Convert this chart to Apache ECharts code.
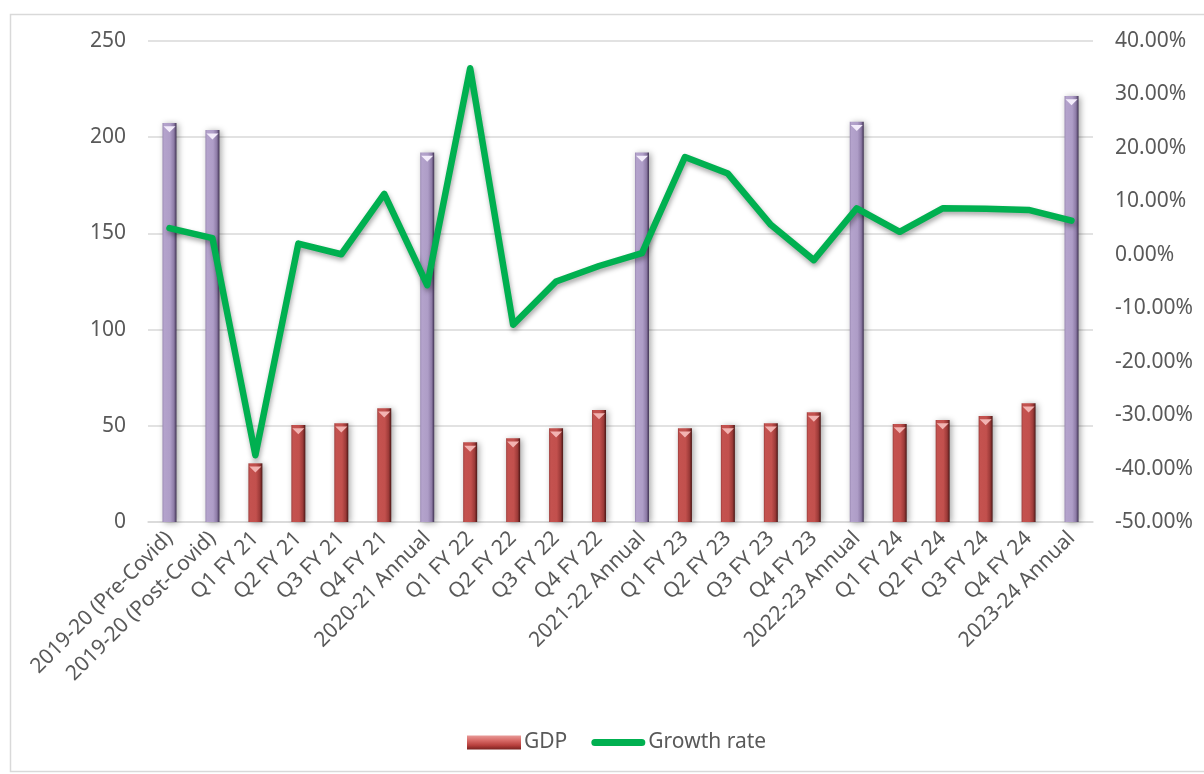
<!DOCTYPE html>
<html>
<head>
<meta charset="utf-8">
<script src="https://cdn.jsdelivr.net/npm/echarts@6/dist/echarts.min.js"></script>
<style>
  html, body { margin: 0; padding: 0; background: #ffffff; }
  #chart { width: 1204px; height: 774px; }
</style>
</head>
<body>
<div id="chart"></div>
<script>
// ---- data ----
var categories = [
  '2019-20 (Pre-Covid)', '2019-20 (Post-Covid)',
  'Q1 FY 21', 'Q2 FY 21', 'Q3 FY 21', 'Q4 FY 21', '2020-21 Annual',
  'Q1 FY 22', 'Q2 FY 22', 'Q3 FY 22', 'Q4 FY 22', '2021-22 Annual',
  'Q1 FY 23', 'Q2 FY 23', 'Q3 FY 23', 'Q4 FY 23', '2022-23 Annual',
  'Q1 FY 24', 'Q2 FY 24', 'Q3 FY 24', 'Q4 FY 24', '2023-24 Annual'
];
var gdpValues = [207.4, 203.7, 30.5, 50.4, 51.3, 59.1, 192.1, 41.4, 43.5, 48.7, 58.2, 192.1,
                 48.7, 50.4, 51.3, 57.0, 208.0, 50.9, 53.0, 55.1, 61.7, 221.4];
var isAnnual = [true, true, false, false, false, false, true, false, false, false, false, true,
                false, false, false, false, true, false, false, false, false, true];
var growthRate = [5.0, 3.1, -37.5, 2.1, 0.1, 11.4, -5.7, 34.9, -13.1, -5.0, -2.1, 0.3,
                  18.3, 15.2, 5.6, -1.0, 8.7, 4.3, 8.7, 8.6, 8.4, 6.4];
var leftTicks = { min: 0, max: 250, interval: 50 };
var rightTicks = { min: -50, max: 40, interval: 10 };

// ---- styles ----
var FONT = 'Noto Sans';
function hGrad(stops) {
  return new echarts.graphic.LinearGradient(0, 0, 1, 0, stops.map(function (s) { return { offset: s[0], color: s[1] }; }));
}
var redGrad = hGrad([[0, '#9e3f3d'], [0.12, '#c4524f'], [0.55, '#c2504d'], [0.82, '#9c3a38'], [1, '#4a1716']]);
var purpleGrad = hGrad([[0, '#9a89b3'], [0.12, '#b4a3cc'], [0.55, '#ae9dc7'], [0.82, '#8d7ba6'], [1, '#3e3050']]);
var legendRed = new echarts.graphic.LinearGradient(0, 0, 0, 1, [
  { offset: 0, color: '#e89a98' }, { offset: 0.35, color: '#d86a67' }, { offset: 0.7, color: '#b8403d' }, { offset: 1, color: '#7a2220' }
]);
// thick rounded line icon inside a 54x14 box (zero-length subpaths fix the box)
var lineIcon = 'path://M0,0L0.01,0M0,14L0.01,14M3.5,3.5L50.5,3.5A3.5,3.5,0,0,1,50.5,10.5L3.5,10.5A3.5,3.5,0,0,1,3.5,3.5Z';

var barData = gdpValues.map(function (v, i) {
  return { value: v, itemStyle: { color: isAnnual[i] ? purpleGrad : redGrad } };
});
var capData = gdpValues.map(function (v, i) {
  return { value: v, itemStyle: { color: isAnnual[i] ? '#f3ecfb' : '#f2b3b1' } };
});

var chart = echarts.init(document.getElementById('chart'), null, { renderer: 'canvas' });
chart.setOption({
  backgroundColor: '#ffffff',
  animation: false,
  textStyle: { fontFamily: FONT },
  graphic: [{
    type: 'rect', left: 8, top: 12, silent: true,
    shape: { width: 1210, height: 757 },
    style: { fill: 'none', stroke: '#d9d9d9', lineWidth: 1.5 }
  }],
  grid: { left: 148, right: 111, top: 41, bottom: 252, containLabel: false },
  legend: {
    bottom: 16,
    left: 462,
    itemWidth: 54,
    itemHeight: 14,
    itemGap: 24,
    textStyle: { fontFamily: FONT, fontSize: 21, color: '#595959', padding: [0, 0, 0, -2] },
    data: [
      { name: 'GDP', icon: 'rect', itemStyle: { color: legendRed } },
      { name: 'Growth rate', icon: lineIcon, itemStyle: { color: '#00b050' } }
    ]
  },
  xAxis: {
    type: 'category',
    data: categories,
    boundaryGap: true,
    axisLine: { show: true, lineStyle: { color: '#d9d9d9', width: 1.5 } },
    axisTick: { show: false },
    axisLabel: {
      interval: 0, rotate: 45, margin: 13,
      fontFamily: FONT, fontSize: 21, color: '#595959'
    }
  },
  yAxis: [{
    type: 'value',
    min: leftTicks.min, max: leftTicks.max, interval: leftTicks.interval,
    axisLine: { show: false }, axisTick: { show: false },
    splitLine: { lineStyle: { color: '#d9d9d9', width: 1.5 } },
    axisLabel: { margin: 22, fontFamily: FONT, fontSize: 21, color: '#595959' }
  }, {
    type: 'value',
    min: rightTicks.min, max: rightTicks.max, interval: rightTicks.interval,
    axisLine: { show: false }, axisTick: { show: false },
    splitLine: { show: false },
    axisLabel: {
      margin: 22, fontFamily: FONT, fontSize: 21, color: '#595959',
      formatter: function (v) { return v.toFixed(2) + '%'; }
    }
  }],
  series: [{
    name: 'GDP',
    type: 'bar',
    yAxisIndex: 0,
    barWidth: 14,
    data: barData,
    itemStyle: {
      color: redGrad,
      shadowColor: 'rgba(0,0,0,0.35)', shadowBlur: 6, shadowOffsetX: 2, shadowOffsetY: 1
    },
    z: 2
  }, {
    name: 'cap',
    type: 'pictorialBar',
    yAxisIndex: 0,
    barWidth: 14,
    barGap: '-100%',
    symbol: 'triangle',
    symbolRotate: 180,
    symbolSize: [12, 6],
    symbolPosition: 'end',
    symbolOffset: [0, '55%'],
    data: capData,
    silent: true,
    z: 3
  }, {
    name: 'Growth rate',
    type: 'line',
    yAxisIndex: 1,
    data: growthRate,
    symbol: 'none',
    lineStyle: {
      color: '#00b050', width: 6.5, cap: 'round', join: 'round',
      shadowColor: 'rgba(0,0,0,0.35)', shadowBlur: 5, shadowOffsetX: 1, shadowOffsetY: 3
    },
    itemStyle: { color: '#00b050' },
    z: 5
  }]
});
</script>
</body>
</html>
